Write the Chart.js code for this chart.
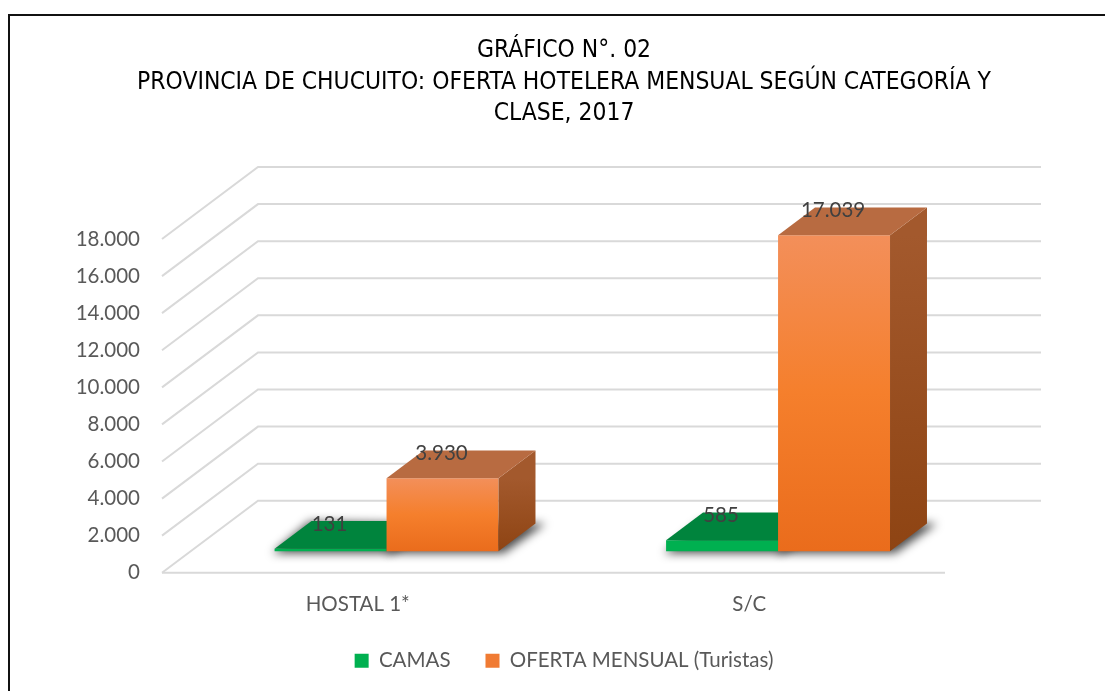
<!DOCTYPE html>
<html>
<head>
<meta charset="utf-8">
<script src="https://cdn.jsdelivr.net/npm/chart.js@4"></script>
<style>
    html, body { margin: 0; padding: 0; background: #fff; overflow: hidden; }
    #frame {
        position: absolute; left: 8px; top: 14px;
        width: 1200px; height: 800px;
        border-top: 2px solid #111; border-left: 2px solid #111;
    }
    canvas { display: block; }
</style>
</head>
<body>
<div id="frame"><canvas id="chart" width="1108" height="680"></canvas></div>
<script>
const categories = ['HOSTAL 1*', 'S/C'];
const camas = [131, 585];
const ofertaMensual = [3930, 17039];
const seriesLabels = ['CAMAS', 'OFERTA MENSUAL (Turistas)'];
const titleLines = [
    'GRÁFICO N°. 02',
    'PROVINCIA DE CHUCUITO: OFERTA HOTELERA MENSUAL SEGÚN CATEGORÍA Y',
    'CLASE, 2017'
];
const yMax = 18000;
const yStep = 2000;

// 3d look: wall depth and where the bars sit inside it
const WALL_DX = 96, WALL_DY = -72;
const FRONT = 0.3, DEPTH = 0.385;
const ox = WALL_DX * FRONT, oy = WALL_DY * FRONT;
const bdx = WALL_DX * DEPTH, bdy = WALL_DY * DEPTH;

const faces = [
    { front: ['#00B050', '#00B050'], top: '#00843D', side: ['#00733A', '#006630'], legend: '#00B050' },
    { front: ['#F38F5A', '#EA6C1C'], top: '#B86B41', side: ['#A3592D', '#8E4413'], legend: '#F07B33' }
];

const tickFont = { family: 'Lato', size: 20.5 };

function fmt(v) {
    return String(v).replace(/\B(?=(\d{3})+(?!\d))/g, '.');
}

function frontColor(i) {
    return function(c) {
        const chart = c.chart;
        if (!chart.chartArea || c.raw === undefined) return faces[i].legend;
        const y = chart.scales.y;
        const top = y.getPixelForValue(c.raw), bottom = y.getPixelForValue(0);
        const g = chart.ctx.createLinearGradient(0, top, 0, bottom);
        g.addColorStop(0, faces[i].front[0]);
        if (i === 1) g.addColorStop(0.5, '#F57F2C');
        g.addColorStop(1, faces[i].front[1]);
        return g;
    };
}

const bars3d = {
    id: 'bars3d',
    beforeDatasetsDraw(chart) {
        const { ctx, chartArea: a } = chart;
        const y = chart.scales.y;
        ctx.save();
        ctx.strokeStyle = '#D9D9D9';
        ctx.lineWidth = 2;
        y.ticks.forEach(t => {
            const py = y.getPixelForValue(t.value);
            ctx.beginPath();
            ctx.moveTo(a.left, py);
            ctx.lineTo(a.left + WALL_DX, py + WALL_DY);
            ctx.lineTo(a.right + WALL_DX, py + WALL_DY);
            ctx.stroke();
        });
        const p0 = y.getPixelForValue(0);
        ctx.beginPath();
        ctx.moveTo(a.left, p0);
        ctx.lineTo(a.right, p0);
        ctx.stroke();

        // soft shadows on the floor
        ctx.filter = 'blur(5px)';
        ctx.fillStyle = 'rgba(0,0,0,0.7)';
        chart.data.datasets.forEach((ds, i) => {
            chart.getDatasetMeta(i).data.forEach(el => {
                const L = el.x - el.width / 2 + ox, R = el.x + el.width / 2 + ox, b = el.base + oy;
                ctx.beginPath();
                ctx.moveTo(L - 2, b + 2);
                ctx.lineTo(R + 5, b + 2);
                ctx.lineTo(R + bdx + 10, b + bdy);
                ctx.lineTo(L + bdx - 2, b + bdy - 2);
                ctx.closePath();
                ctx.fill();
            });
        });
        ctx.restore();
    },
    beforeDatasetDraw() {
        return false;
    },
    afterDatasetsDraw(chart) {
        const ctx = chart.ctx;
        ctx.save();
        ctx.translate(ox, oy);
        categories.forEach((cat, j) => {
            chart.data.datasets.forEach((ds, i) => {
                const el = chart.getDatasetMeta(i).data[j];
                const f = faces[i];
                const L = el.x - el.width / 2, R = el.x + el.width / 2, t = el.y, b = el.base;
                el.draw(ctx, chart.chartArea);
                const g = ctx.createLinearGradient(0, t, 0, b);
                g.addColorStop(0, f.side[0]);
                g.addColorStop(1, f.side[1]);
                ctx.fillStyle = g;
                ctx.beginPath();
                ctx.moveTo(R, t);
                ctx.lineTo(R + bdx, t + bdy);
                ctx.lineTo(R + bdx, b + bdy);
                ctx.lineTo(R, b);
                ctx.closePath();
                ctx.fill();
                ctx.fillStyle = f.top;
                ctx.beginPath();
                ctx.moveTo(L, t);
                ctx.lineTo(R, t);
                ctx.lineTo(R + bdx, t + bdy);
                ctx.lineTo(L + bdx, t + bdy);
                ctx.closePath();
                ctx.fill();
            });
        });
        // value labels
        ctx.fillStyle = '#404040';
        ctx.font = tickFont.size + 'px ' + tickFont.family;
        ctx.textAlign = 'center';
        ctx.textBaseline = 'middle';
        chart.data.datasets.forEach((ds, i) => {
            chart.getDatasetMeta(i).data.forEach((el, j) => {
                ctx.fillText(fmt(ds.data[j]), el.x - 1, el.y + bdy + 3);
            });
        });
        ctx.restore();
    }
};

new Chart(document.getElementById('chart'), {
    type: 'bar',
    data: {
        labels: categories,
        datasets: [
            { label: seriesLabels[0], data: camas, backgroundColor: frontColor(0), clip: false },
            { label: seriesLabels[1], data: ofertaMensual, backgroundColor: frontColor(1), clip: false }
        ]
    },
    options: {
        responsive: false,
        animation: false,
        events: [],
        categoryPercentage: 0.572,
        barPercentage: 1,
        layout: { padding: { top: 0, left: 0, right: 0, bottom: 15 } },
        plugins: {
            title: {
                display: true,
                text: titleLines,
                color: '#000',
                font: { family: "'Liberation Sans Narrow', 'Arial Narrow', 'DejaVu Sans Condensed', sans-serif", size: 24.4, weight: 'normal', lineHeight: '31.5px' },
                padding: { top: 19, bottom: 109.5 }
            },
            legend: {
                position: 'bottom',
                labels: {
                    color: '#595959',
                    font: tickFont,
                    boxWidth: 14,
                    boxHeight: 14,
                    padding: 35,
                    generateLabels: chart => Chart.defaults.plugins.legend.labels.generateLabels(chart).map((l, i) => ({
                        ...l, fillStyle: faces[i].legend, strokeStyle: faces[i].legend, lineWidth: 0
                    }))
                }
            },
            tooltip: { enabled: false }
        },
        scales: {
            x: {
                grid: { display: false, drawTicks: false },
                border: { display: false },
                ticks: { color: '#595959', font: tickFont, padding: 19 },
                afterFit: s => { s.height = 42.75; }
            },
            y: {
                min: 0,
                max: yMax,
                grid: { display: false, drawTicks: false },
                border: { display: false },
                ticks: { stepSize: yStep, color: '#595959', font: tickFont, padding: 22, callback: v => fmt(v) },
                afterFit: s => { s.width = 152; }
            },
            y2: {
                position: 'right',
                grid: { display: false },
                border: { display: false },
                ticks: { display: false },
                afterFit: s => { s.width = 173; }
            }
        }
    },
    plugins: [bars3d]
});
</script>
</body>
</html>
